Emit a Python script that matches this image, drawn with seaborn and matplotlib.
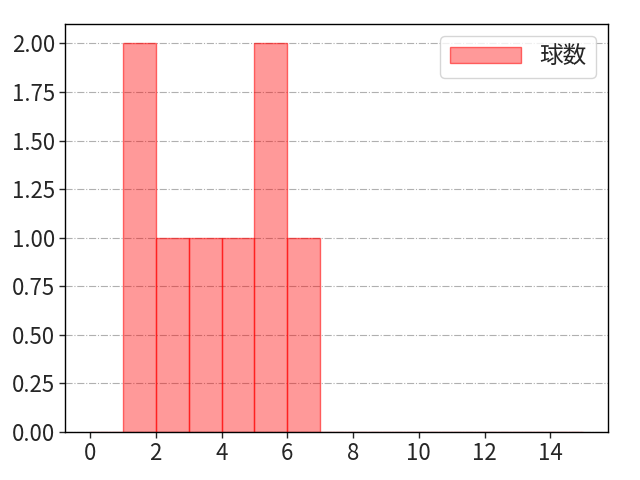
import matplotlib
matplotlib.use("Agg")
import matplotlib.pyplot as plt
import matplotlib.ticker as mticker
import seaborn as sns

# pitch counts observed (one entry per plate appearance)
pitches = [1, 1, 2, 3, 4, 5, 5, 6]
bin_edges = list(range(0, 16))
label = "球数"

sns.set_style("white")
plt.rcParams["font.family"] = ["Noto Sans CJK JP", "DejaVu Sans"]

fig, ax = plt.subplots(figsize=(6.4, 4.8), dpi=100)
sns.histplot(x=pitches, bins=bin_edges, color="red", alpha=0.4,
             edgecolor=(1, 0, 0, 0.55), linewidth=1, label=label, ax=ax)

ax.grid(axis="y", linestyle="-.", color="#b0b0b0", linewidth=0.8)
ax.set_axisbelow(True)
ax.set_xlabel("")
ax.set_ylabel("")
ax.xaxis.set_major_locator(mticker.MultipleLocator(2))
ax.yaxis.set_major_formatter(mticker.FormatStrFormatter("%.2f"))
ax.tick_params(labelsize=16, length=4, width=1, bottom=True, left=True)
for s in ax.spines.values():
    s.set_color("black")
    s.set_linewidth(1)
ax.legend(fontsize=17, handlelength=3.0, loc="upper right")

fig.subplots_adjust(left=0.102, right=0.95, top=0.95, bottom=0.1)
fig.savefig("out.png", dpi=100)
